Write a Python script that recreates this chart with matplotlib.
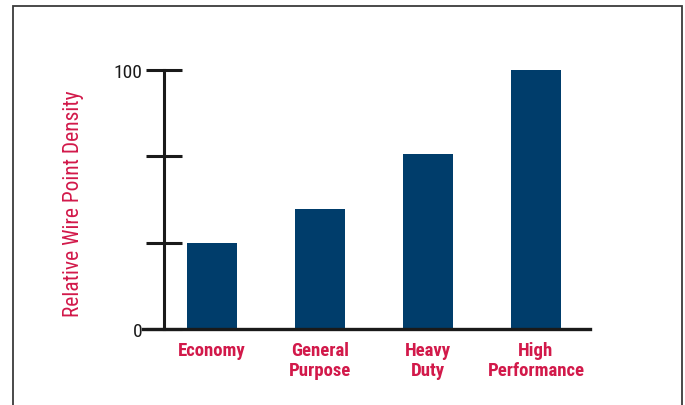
import matplotlib
matplotlib.use("Agg")
import matplotlib.pyplot as plt
from matplotlib.patches import Rectangle

categories = ["Economy", "General\nPurpose", "Heavy\nDuty", "High\nPerformance"]
values = [33.3, 46.5, 67.5, 100]
ytick_values = [0, 100 / 3, 200 / 3, 100]
ytick_labels = ["0", "", "", "100"]

bar_color = "#003d6b"
red = "#d2194a"
narrow = ["Roboto Condensed", "DejaVu Sans"]

fig = plt.figure(figsize=(6.85, 4.06), dpi=100)
fig.patches.append(Rectangle((13 / 685, -0.1), 669 / 685, 1.1 - 7 / 406,
                             transform=fig.transFigure, fill=False,
                             edgecolor="#3a3a3a", linewidth=1.3))

ax = fig.add_axes([130 / 685, 76 / 406, 470 / 685, 259 / 406])
x = range(len(categories))
ax.bar(x, values, width=0.47, color=bar_color, zorder=1)

ax.set_xlim(-0.759, 3.593)
ax.set_ylim(0, 100)

for s in ["top", "right"]:
    ax.spines[s].set_visible(False)
ax.spines["left"].set_position(("data", -0.44))
ax.spines["left"].set_bounds(0, 100)
ax.spines["left"].set_linewidth(2.2)
ax.spines["left"].set_color("#1a1a1a")
ax.spines["bottom"].set_bounds(-0.64, 3.5)
ax.spines["bottom"].set_linewidth(2.4)
ax.spines["bottom"].set_color("#1a1a1a")
ax.spines["bottom"].set_zorder(3)

ax.set_yticks(ytick_values)
ax.set_yticklabels(ytick_labels, family=narrow, fontsize=14, color="#1a1a1a")
ax.tick_params(axis="y", direction="inout", length=26, width=2.2,
               color="#1a1a1a", pad=3)

ax.set_xticks(list(x))
ax.set_xticklabels(categories, family=narrow, fontsize=13.5, fontweight="bold",
                   color=red, linespacing=1.1)
ax.tick_params(axis="x", length=0, pad=9)

fig.text(73 / 685, 1 - 204 / 406, "Relative Wire Point Density", rotation=90,
         ha="center", va="center", family=narrow, fontsize=15.5, color=red)

fig.savefig("out.png", dpi=100)
